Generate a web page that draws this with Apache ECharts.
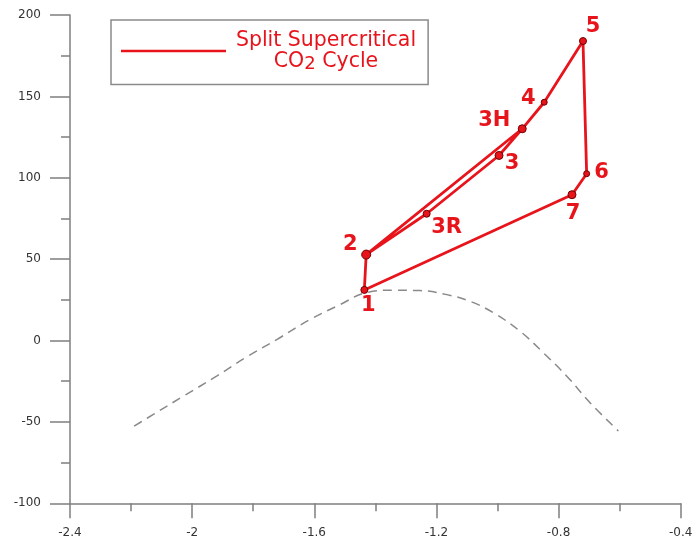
<!DOCTYPE html>
<html>
<head>
<meta charset="utf-8">
<script src="https://cdn.jsdelivr.net/npm/echarts@6/dist/echarts.min.js"></script>
<style>
  html, body { margin: 0; padding: 0; background: #ffffff; }
  #chart { width: 692px; height: 541px; }
</style>
</head>
<body>
<div id="chart"></div>
<script>
// State points of the split supercritical CO2 cycle (x: entropy-like axis, y: temperature-like axis)
const stateNames = ['1', '2', '3R', '3', '3H', '4', '5', '6', '7'];
const stateX = [-1.436, -1.430, -1.232, -0.995, -0.919, -0.847, -0.720, -0.708, -0.756];
const stateY = [31.1, 52.8, 77.9, 113.7, 130.1, 146.4, 184.0, 102.5, 89.6];

// Order in which the cycle path visits the states
const cycleOrder = ['2', '3H', '3', '3R', '2', '1', '7', '6', '5', '4', '3H'];

// Saturation dome (dashed curve)
const domeX = [-2.19, -2.127, -2.029, -1.920, -1.821, -1.723, -1.614, -1.515, -1.433, -1.341,
               -1.254, -1.166, -1.090, -1.013, -0.926, -0.850, -0.773, -0.697, -0.604];
const domeY = [-52.6, -45.4, -34.2, -21.9, -10.0, 0.6, 12.9, 22.1, 29.3, 30.9,
               30.7, 28.2, 24.1, 17.0, 5.7, -7.5, -21.9, -38.2, -55.6];

const seriesName = 'Split Supercritical CO2 Cycle';

// Label placement and marker size per state
const stateStyle = {
  '1':  { offset: [4, 16],   size: 7 },
  '2':  { offset: [-16, -10], size: 9 },
  '3R': { offset: [20, 14],  size: 7 },
  '3':  { offset: [13, 8],   size: 8 },
  '3H': { offset: [-28, -8], size: 8 },
  '4':  { offset: [-16, -4], size: 6 },
  '5':  { offset: [10, -14], size: 7 },
  '6':  { offset: [15, -1],  size: 6 },
  '7':  { offset: [1, 19],   size: 8 }
};

const RED = '#e8141c';
const AXIS = '#7f7f7f';
const FONT = '"DejaVu Sans", sans-serif';

const stateIndex = {};
stateNames.forEach((n, i) => { stateIndex[n] = i; });

const pathData = cycleOrder.map(n => [stateX[stateIndex[n]], stateY[stateIndex[n]]]);
const domeData = domeX.map((x, i) => [x, domeY[i]]);
const pointData = stateNames.map((n, i) => ({
  name: n,
  value: [stateX[i], stateY[i]],
  symbolSize: stateStyle[n].size,
  label: { offset: stateStyle[n].offset }
}));

const chart = echarts.init(document.getElementById('chart'), null, { renderer: 'canvas' });

chart.setOption({
  animation: false,
  backgroundColor: '#ffffff',
  grid: { left: 70, right: 11.3, top: 15, bottom: 37.7, containLabel: false, outerBoundsMode: 'none' },
  legend: {
    data: [seriesName],
    left: 111,
    top: 20,
    padding: [10, 12, 11, 10],
    borderColor: '#8a8a8a',
    borderWidth: 1.5,
    borderRadius: 0,
    icon: 'rect',
    itemWidth: 105,
    itemHeight: 2.5,
    selectedMode: false,
    formatter: () => '{a|Split Supercritical}\n{a|CO}{s|2}{a| Cycle}',
    textStyle: {
      width: 190,
      color: RED,
      fontFamily: FONT,
      rich: {
        a: { align: 'center', fontSize: 20.5, lineHeight: 21, color: RED, fontFamily: FONT },
        s: { align: 'center', fontSize: 18, lineHeight: 21, padding: [6, 0, 0, 0], color: RED, fontFamily: FONT }
      }
    }
  },
  xAxis: {
    type: 'value',
    min: -2.4,
    max: -0.4,
    interval: 0.4,
    axisLine: { show: true, onZero: false, lineStyle: { color: AXIS, width: 1.5 } },
    axisTick: { show: true, length: 15, lineStyle: { color: AXIS, width: 1.5 } },
    minorTick: { show: true, splitNumber: 2, length: 8, lineStyle: { color: AXIS, width: 1.5 } },
    splitLine: { show: false },
    axisLabel: { margin: 24, color: '#333333', fontSize: 12, fontFamily: FONT }
  },
  yAxis: {
    type: 'value',
    min: -100,
    max: 200,
    interval: 50,
    axisLine: { show: true, onZero: false, lineStyle: { color: AXIS, width: 1.5 } },
    axisTick: { show: true, length: 20, lineStyle: { color: AXIS, width: 1.5 } },
    minorTick: { show: true, splitNumber: 2, length: 9, lineStyle: { color: AXIS, width: 1.5 } },
    splitLine: { show: false },
    axisLabel: { margin: 29, color: '#333333', fontSize: 12, fontFamily: FONT }
  },
  series: [
    {
      name: 'dome',
      type: 'line',
      data: domeData,
      smooth: 0.4,
      showSymbol: false,
      silent: true,
      lineStyle: { color: '#8a8a8a', width: 1.5, type: [9, 6] },
      z: 1
    },
    {
      name: seriesName,
      type: 'line',
      data: pathData,
      showSymbol: false,
      itemStyle: { color: RED },
      lineStyle: { color: RED, width: 2.8 },
      z: 2
    },
    {
      name: 'states',
      type: 'scatter',
      data: pointData,
      symbol: 'circle',
      itemStyle: { color: RED, opacity: 1, borderColor: '#6e0000', borderWidth: 1 },
      label: {
        show: true,
        position: 'inside',
        formatter: p => p.name,
        color: RED,
        opacity: 1,
        fontSize: 21,
        fontWeight: 'bold',
        fontFamily: FONT
      },
      z: 3
    }
  ]
});
</script>
</body>
</html>
